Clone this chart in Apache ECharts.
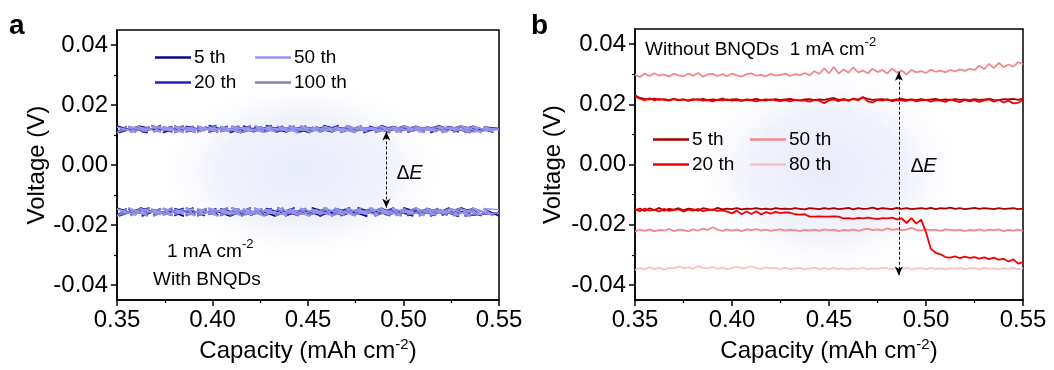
<!DOCTYPE html>
<html lang="en">
<head>
<meta charset="UTF-8">
<title>voltage profiles</title>
<script src="https://cdn.jsdelivr.net/npm/echarts@6/dist/echarts.min.js"></script>
<style>
  html, body { margin: 0; padding: 0; background: #fff; }
  #main { width: 1054px; height: 370px; }
</style>
</head>
<body>
<div id="main"></div>
<script>
// capacity in mAh cm-2, voltage in mV (axis labels shown in V)

// panel a: with BNQDs, the traces fold back on themselves
var capA1 = [
  0.350, 0.360, 0.356, 0.366, 0.362, 0.373, 0.368, 0.379, 0.374, 0.385,
  0.380, 0.391, 0.386, 0.396, 0.392, 0.403, 0.398, 0.409, 0.404, 0.415,
  0.410, 0.421, 0.416, 0.427, 0.422, 0.433, 0.428, 0.439, 0.434, 0.445,
  0.440, 0.451, 0.446, 0.457, 0.452, 0.463, 0.458, 0.469, 0.464, 0.475,
  0.470, 0.481, 0.476, 0.487, 0.482, 0.493, 0.488, 0.499, 0.494, 0.505,
  0.500, 0.511, 0.506, 0.517, 0.512, 0.523, 0.518, 0.529, 0.524, 0.535,
  0.530, 0.541, 0.536, 0.547, 0.542, 0.550
];
var capA2 = [
  0.350, 0.355, 0.351, 0.362, 0.357, 0.367, 0.363, 0.373, 0.369, 0.379,
  0.374, 0.385, 0.380, 0.390, 0.386, 0.397, 0.392, 0.402, 0.398, 0.408,
  0.404, 0.414, 0.409, 0.420, 0.415, 0.426, 0.421, 0.431, 0.427, 0.437,
  0.433, 0.443, 0.438, 0.449, 0.444, 0.455, 0.450, 0.460, 0.456, 0.466,
  0.462, 0.472, 0.467, 0.478, 0.473, 0.484, 0.479, 0.489, 0.485, 0.495,
  0.491, 0.501, 0.496, 0.507, 0.502, 0.513, 0.508, 0.518, 0.514, 0.524,
  0.520, 0.530, 0.526, 0.537, 0.532, 0.550
];
var a5Up = [
  13.0, 11.1, 12.8, 10.8, 12.9, 11.3, 13.2, 11.0, 12.7, 11.4,
  13.0, 10.9, 12.9, 11.5, 12.8, 11.0, 13.2, 11.2, 12.6, 10.8,
  12.9, 11.3, 13.0, 11.0, 12.7, 11.4, 13.2, 10.9, 12.8, 11.2,
  13.0, 10.8, 12.9, 11.5, 12.6, 11.0, 13.2, 11.3, 12.8, 10.9,
  13.0, 11.2, 12.7, 11.4, 12.9, 10.8, 13.2, 11.0, 12.8, 11.3,
  13.0, 10.9, 12.9, 11.2, 12.7, 11.4, 13.2, 11.0, 12.8, 10.8,
  13.0, 11.3, 12.9, 10.9, 12.7, 12.2
];
var a20Up = [
  11.0, 12.9, 10.8, 13.0, 11.3, 12.7, 10.9, 13.2, 11.2, 12.8,
  10.8, 13.0, 11.4, 12.9, 11.0, 12.7, 11.3, 13.2, 10.9, 12.9,
  11.2, 12.8, 10.8, 13.0, 11.4, 12.7, 11.0, 13.2, 11.3, 12.9,
  10.9, 12.8, 11.2, 13.0, 10.8, 12.7, 11.4, 12.9, 11.0, 13.2,
  11.3, 12.8, 10.9, 13.0, 11.2, 12.7, 10.8, 12.9, 11.4, 12.8,
  11.0, 13.2, 11.3, 12.9, 10.9, 12.7, 11.2, 13.0, 10.8, 12.8,
  11.3, 12.9, 11.0, 13.0, 11.2, 12.1
];
var a50Up = [
  12.7, 10.8, 12.9, 11.2, 12.6, 10.9, 13.1, 11.3, 12.8, 10.8,
  12.9, 11.0, 12.6, 11.4, 13.1, 10.9, 12.7, 11.2, 12.9, 10.8,
  12.8, 11.3, 12.6, 10.9, 13.1, 11.0, 12.7, 11.4, 12.9, 10.8,
  12.8, 11.2, 13.1, 10.9, 12.6, 11.3, 12.9, 11.0, 12.7, 10.8,
  13.1, 11.2, 12.8, 11.4, 12.6, 10.9, 12.9, 11.0, 12.7, 11.3,
  13.1, 10.8, 12.8, 11.2, 12.6, 10.9, 12.9, 11.4, 12.7, 11.0,
  13.1, 10.8, 12.8, 11.2, 12.6, 11.8
];
var a100Up = [
  10.8, 12.8, 11.2, 13.1, 10.9, 12.6, 11.3, 12.9, 11.0, 12.7,
  11.4, 13.1, 10.8, 12.8, 11.2, 12.6, 10.9, 12.9, 11.3, 12.7,
  11.0, 13.1, 11.4, 12.8, 10.8, 12.6, 11.2, 12.9, 10.9, 12.7,
  11.3, 13.1, 11.0, 12.8, 11.4, 12.6, 10.8, 12.9, 11.2, 12.7,
  10.9, 13.1, 11.3, 12.8, 11.0, 12.6, 11.4, 12.9, 10.8, 12.7,
  11.2, 13.1, 10.9, 12.8, 11.3, 12.6, 11.0, 12.9, 11.4, 12.7,
  10.8, 13.1, 11.2, 12.8, 10.9, 11.9
];
var a5Low = [
  -14.3, -16.6, -14.6, -16.9, -14.2, -16.4, -14.7, -16.8, -14.4, -17.1,
  -14.5, -16.5, -14.2, -16.9, -14.8, -16.7, -14.4, -17.0, -14.6, -16.4,
  -14.2, -16.8, -14.7, -16.6, -14.4, -17.1, -14.5, -16.5, -14.2, -16.9,
  -14.8, -16.7, -14.5, -17.0, -14.2, -16.4, -14.6, -16.8, -14.4, -16.6,
  -14.7, -17.1, -14.2, -16.5, -14.5, -16.9, -14.4, -16.7, -14.8, -17.0,
  -14.2, -16.4, -14.6, -16.8, -14.4, -16.6, -14.7, -17.1, -14.5, -16.5,
  -14.2, -16.9, -14.4, -16.7, -14.6, -17.0
];
var a20Low = [
  -16.8, -14.4, -17.0, -14.6, -16.5, -14.2, -17.1, -14.5, -16.7, -14.7,
  -16.4, -14.4, -16.9, -14.2, -16.6, -14.8, -17.0, -14.5, -16.5, -14.4,
  -16.8, -14.6, -17.1, -14.2, -16.7, -14.7, -16.4, -14.5, -16.9, -14.4,
  -16.6, -14.2, -17.0, -14.6, -16.5, -14.8, -16.8, -14.4, -17.1, -14.5,
  -16.4, -14.2, -16.9, -14.7, -16.7, -14.4, -16.5, -14.6, -17.0, -14.2,
  -16.8, -14.8, -16.6, -14.4, -16.9, -14.5, -16.4, -14.7, -17.1, -14.2,
  -16.7, -14.6, -16.5, -14.4, -17.0, -15.9
];
var a50Low = [
  -14.6, -16.7, -14.2, -17.0, -14.5, -16.5, -14.8, -16.8, -14.4, -16.4,
  -14.7, -16.9, -14.2, -16.6, -14.5, -17.1, -14.4, -16.5, -14.7, -16.8,
  -14.2, -16.7, -14.6, -17.0, -14.4, -16.4, -14.8, -16.8, -14.2, -16.6,
  -14.6, -17.1, -14.4, -16.5, -14.7, -16.9, -14.2, -16.7, -14.5, -17.0,
  -14.4, -16.4, -14.8, -16.8, -14.2, -16.6, -14.6, -17.1, -14.4, -16.5,
  -14.7, -16.9, -14.2, -16.7, -14.5, -16.4, -14.8, -16.8, -14.4, -17.0,
  -14.6, -16.6, -14.2, -16.9, -14.5, -14.9
];
var a100Low = [
  -17.0, -14.5, -16.6, -14.8, -16.9, -14.4, -16.4, -14.6, -17.1, -14.2,
  -16.7, -14.7, -16.5, -14.5, -17.0, -14.4, -16.8, -14.8, -16.4, -14.2,
  -16.9, -14.6, -16.6, -14.4, -17.1, -14.5, -16.5, -14.7, -16.8, -14.2,
  -17.0, -14.6, -16.4, -14.4, -16.7, -14.8, -16.9, -14.2, -16.5, -14.5,
  -17.1, -14.7, -16.6, -14.4, -16.8, -14.6, -16.4, -14.2, -17.0, -14.8,
  -16.7, -14.5, -16.9, -14.2, -16.5, -14.7, -17.1, -14.4, -16.8, -14.6,
  -16.4, -14.2, -17.0, -14.5, -16.6, -16.0
];

// panel b: without BNQDs
var capB = [
  0.35, 0.3525, 0.355, 0.3575, 0.36, 0.3625, 0.365, 0.3675, 0.37, 0.3725,
  0.375, 0.3775, 0.38, 0.3825, 0.385, 0.3875, 0.39, 0.3925, 0.395, 0.3975,
  0.40, 0.4025, 0.405, 0.4075, 0.41, 0.4125, 0.415, 0.4175, 0.42, 0.4225,
  0.425, 0.4275, 0.43, 0.4325, 0.435, 0.4375, 0.44, 0.4425, 0.445, 0.4475,
  0.45, 0.4525, 0.455, 0.4575, 0.46, 0.4625, 0.465, 0.4675, 0.47, 0.4725,
  0.475, 0.4775, 0.48, 0.4825, 0.485, 0.4875, 0.49, 0.4925, 0.495, 0.4975,
  0.50, 0.5025, 0.505, 0.5075, 0.51, 0.5125, 0.515, 0.5175, 0.52, 0.5225,
  0.525, 0.5275, 0.53, 0.5325, 0.535, 0.5375, 0.54, 0.5425, 0.545, 0.5475,
  0.55
];
var b50Up = [
  29.8, 29.1, 30.2, 29.4, 30.3, 29.5, 29.9, 29.2, 30.1, 29.6,
  29.3, 30.2, 29.5, 30.4, 29.2, 29.9, 30.1, 29.4, 30.0, 29.3,
  30.2, 29.6, 29.2, 30.0, 30.3, 29.5, 29.8, 29.3, 30.1, 29.5,
  29.8, 30.2, 29.4, 30.0, 29.7, 30.4, 29.6, 31.0, 30.1, 31.9,
  30.3, 32.4, 30.2, 31.6, 30.5, 32.3, 30.6, 31.2, 30.3, 31.8,
  30.7, 31.4, 30.2, 31.9, 30.5, 31.2, 29.9, 31.4, 30.6, 31.0,
  30.4, 31.5, 30.8, 31.2, 30.6, 31.4, 30.9, 31.6, 31.1, 31.8,
  31.4, 32.8, 31.7, 33.4, 32.0, 33.8, 32.3, 33.2, 32.5, 34.0,
  33.3
];
var b5Up = [
  23.0, 22.1, 21.8, 21.6, 21.9, 21.5, 21.7, 21.4, 21.8, 21.5,
  21.6, 21.3, 21.7, 21.5, 21.8, 21.4, 21.6, 21.5, 21.9, 21.4,
  21.6, 21.7, 21.3, 21.6, 21.5, 21.8, 21.4, 21.6, 21.5, 21.7,
  21.4, 21.6, 21.8, 21.5, 21.3, 21.6, 21.7, 21.4, 21.6, 21.5,
  21.8, 22.1, 21.5, 21.6, 21.4, 21.7, 21.6, 22.3, 21.8, 21.5,
  21.6, 21.7, 21.5, 21.4, 21.6, 21.8, 21.5, 21.6, 21.4, 21.7,
  21.5, 21.6, 21.8, 21.4, 21.6, 21.5, 21.7, 21.5, 21.6, 21.4,
  21.7, 21.5, 21.6, 21.8, 21.5, 21.4, 21.7, 21.6, 21.8, 21.5,
  21.9
];
var b20Up = [
  22.6, 21.9, 21.4, 22.0, 21.3, 21.8, 21.5, 21.2, 21.7, 21.3,
  21.6, 21.1, 21.5, 21.7, 21.2, 21.4, 21.0, 21.5, 21.3, 21.6,
  21.2, 21.4, 21.1, 21.5, 21.3, 21.0, 21.4, 21.2, 21.6, 21.3,
  21.1, 21.4, 21.0, 21.5, 21.2, 21.3, 20.9, 21.5, 21.2, 20.4,
  21.3, 21.6, 21.0, 21.8, 21.1, 21.9, 21.3, 22.4, 21.0, 20.6,
  21.5, 21.2, 21.7, 21.0, 21.4, 21.3, 21.1, 21.6, 21.0, 21.3,
  21.5, 20.9, 21.4, 21.2, 20.8, 21.6, 21.1, 20.7, 21.5, 21.0,
  21.4, 20.8, 21.3, 21.6, 20.9, 21.5, 20.6, 21.2, 20.3, 20.5,
  21.4
];
var b5Low = [
  -15.2, -14.6, -15.4, -14.5, -15.1, -14.4, -15.3, -14.7, -15.0, -14.5,
  -15.2, -14.6, -14.9, -15.3, -14.5, -14.8, -15.1, -14.4, -14.9, -14.6,
  -14.8, -14.5, -14.9, -14.6, -14.7, -14.5, -14.8, -14.6, -14.9, -14.5,
  -14.7, -14.6, -14.8, -14.5, -14.7, -14.9, -14.5, -14.6, -14.8, -14.5,
  -14.7, -14.5, -14.8, -14.6, -14.4, -14.9, -14.5, -14.7, -14.6, -14.3,
  -14.8, -14.5, -14.6, -14.8, -14.4, -14.7, -14.5, -14.8, -14.6, -14.5,
  -14.7, -14.4, -14.8, -14.5, -14.6, -14.3, -14.7, -14.5, -14.8, -14.6,
  -14.4, -14.7, -14.5, -14.6, -14.8, -14.5, -14.7, -14.6, -14.5, -14.8,
  -14.6
];
var b20Low = [
  -14.8, -15.5, -14.6, -15.3, -15.0, -15.6, -14.7, -15.4, -15.1, -14.8,
  -15.6, -15.0, -15.3, -14.7, -15.5, -15.1, -14.9, -15.4, -15.2, -15.6,
  -16.2, -15.3, -16.5, -15.6, -16.4, -15.5, -16.6, -15.8, -16.3, -15.7,
  -16.1, -15.9, -16.0, -16.5, -16.6, -16.5,
  -17.3, -17.3, -17.2, -17.3, -17.3, -17.2, -17.3,
  -17.9, -17.8, -18.0, -17.7, -17.9, -17.6, -17.9, -18.1, -17.8, -17.9, -17.6, -18.2, -17.9,
  -19.4, -17.8, -19.6, -18.3,
  -22.5, -28.0, -29.3, -29.8, -30.7,
  -30.9, -30.5, -31.1, -30.6, -31.0, -30.7, -31.2, -30.8, -31.4, -30.9, -31.6,
  -31.3, -32.2, -31.5, -32.9, -32.4
];
var b50Low = [
  -22.3, -21.6, -22.0, -21.5, -22.2, -21.7, -21.9, -21.4, -22.1, -21.6,
  -21.8, -22.2, -21.5, -21.9, -21.3, -21.7, -20.8, -21.6, -22.0, -21.5,
  -21.9, -21.6, -22.1, -21.5, -21.8, -21.4, -21.9, -21.6, -22.0, -21.7,
  -21.5, -21.9, -21.6, -21.8, -22.1, -21.7, -21.9, -21.6, -22.0, -21.5,
  -21.8, -21.6, -22.1, -21.7, -21.9, -21.5, -22.0, -21.6, -21.3, -21.8,
  -21.5, -21.9, -21.2, -21.7, -21.4, -21.8, -21.6, -21.0, -21.7, -21.9,
  -21.5, -21.8, -21.6, -22.0, -21.5, -21.7, -21.9, -21.6, -22.1, -21.7,
  -21.9, -21.5, -22.0, -21.6, -21.8, -21.5, -22.1, -21.7, -21.9, -21.6,
  -22.0
];
var b80Low = [
  -35.0, -34.3, -34.8, -34.1, -34.6, -34.2, -34.9, -34.3, -34.5, -33.8,
  -34.4, -34.1, -34.6, -33.7, -34.3, -34.5, -34.0, -34.6, -34.2, -34.7,
  -34.3, -34.0, -34.5, -34.2, -33.8, -34.4, -34.6, -34.1, -34.5, -34.3,
  -34.6, -34.2, -34.8, -34.4, -34.3, -34.7, -34.5, -34.2, -34.6, -34.4,
  -34.7, -34.3, -34.6, -34.5, -34.8, -34.4, -34.6, -34.3, -34.7, -34.5,
  -34.6, -34.2, -34.5, -34.7, -34.4, -34.6, -34.3, -34.8, -34.5, -34.4,
  -34.7, -34.3, -34.6, -34.5, -34.8, -34.4, -34.6, -34.3, -34.7, -34.5,
  -34.4, -34.7, -34.3, -34.6, -34.5, -34.8, -34.4, -34.6, -34.3, -34.7,
  -34.5
];

// delta E arrows: [capacity, top mV, bottom mV]
var arrowA = [0.491, 11.2, -14.2];
var arrowB = [0.486, 30.8, -36.8];

var yMajor = [-40, -20, 0, 20, 40];
var yMinor = [-30, -10, 10, 30];
var legendNames = {
  a5: '5 th', a20: '20 th', a50: '50 th', a100: '100 th',
  b5: '5 th', b20: '20 th', b50: '50 th', b80: '80 th'
};

var FONT = '"Liberation Sans", Arial, sans-serif';

function pairs(xs, ys) {
  return xs.map(function (x, i) { return [x, ys[i]]; });
}

function trace(name, xs, ys, color, g, w) {
  return {
    type: 'line', name: name, xAxisIndex: g, yAxisIndex: g * 2,
    data: pairs(xs, ys), showSymbol: false, symbol: 'none',
    lineStyle: { width: w, color: color }, itemStyle: { color: color }
  };
}

function arrow(g, a) {
  return {
    type: 'line', xAxisIndex: g, yAxisIndex: g * 2, data: [],
    markLine: {
      silent: true, symbol: ['arrow', 'arrow'], symbolSize: [6, 9],
      label: { show: false },
      lineStyle: { type: [3, 2], color: '#000', width: 1 },
      data: [[{ coord: [a[0], a[1]] }, { coord: [a[0], a[2]] }]]
    }
  };
}

function xAx(g) {
  return {
    type: 'value', gridIndex: g, min: 0.35, max: 0.55, interval: 0.05,
    name: 'Capacity (mAh cm{sup|-2})', nameLocation: 'middle', nameGap: 30,
    nameTextStyle: {
      fontSize: 24, fontFamily: FONT, color: '#000', lineHeight: 28,
      rich: { sup: { fontSize: 15, fontFamily: FONT, color: '#000', verticalAlign: 'top' } }
    },
    axisLine: { onZero: false, lineStyle: { color: '#000', width: 1.5 } },
    axisTick: { length: 6, lineStyle: { color: '#000', width: 1.5 } },
    minorTick: { show: true, splitNumber: 2, length: 3, lineStyle: { color: '#000', width: 1.2 } },
    axisLabel: {
      fontSize: 24, fontFamily: FONT, color: '#000', margin: 8,
      formatter: function (v) { return v.toFixed(2); }
    },
    splitLine: { show: false }
  };
}

function yAx(g, gap) {
  return [{
    type: 'value', gridIndex: g, min: -45, max: 45, position: 'left',
    name: 'Voltage (V)', nameLocation: 'middle', nameGap: gap,
    nameTextStyle: { fontSize: 24, fontFamily: FONT, color: '#000' },
    axisLine: { onZero: false, lineStyle: { color: '#000', width: 1.5 } },
    axisTick: { length: 6, customValues: yMajor, lineStyle: { color: '#000', width: 1.5 } },
    axisLabel: {
      customValues: yMajor, fontSize: 24, fontFamily: FONT, color: '#000', margin: 9,
      formatter: function (v) { return (v / 1000).toFixed(2); }
    },
    splitLine: { show: false }
  }, {
    // short ticks between the labelled ones
    type: 'value', gridIndex: g, min: -45, max: 45, position: 'left', offset: 0,
    axisLine: { show: false, onZero: false },
    axisTick: { length: 3, customValues: yMinor, lineStyle: { color: '#000', width: 1.2 } },
    axisLabel: { show: false },
    splitLine: { show: false }
  }];
}

function legendCol(names, left, top) {
  return {
    data: names, left: left, top: top, orient: 'vertical', padding: 0,
    icon: 'rect', itemWidth: 36, itemHeight: 2.5, itemGap: 6, selectedMode: false,
    formatter: function (n) { return legendNames[n]; },
    textStyle: { fontSize: 19, fontFamily: FONT, color: '#000', padding: [0, 0, 0, -2] }
  };
}

function glow(cx, cy, r, sx, sy) {
  return {
    type: 'circle', x: cx, y: cy, scaleX: sx, scaleY: sy, z: -10, silent: true,
    shape: { cx: 0, cy: 0, r: r },
    style: {
      fill: new echarts.graphic.RadialGradient(0.5, 0.5, 0.5, [
        { offset: 0, color: 'rgba(232,235,250,1)' },
        { offset: 0.6, color: 'rgba(236,238,251,0.8)' },
        { offset: 1, color: 'rgba(248,249,254,0)' }
      ])
    }
  };
}

function label(x, y, text, size, extra) {
  var style = {
    text: text, fontSize: size, fontFamily: FONT, fill: '#000', verticalAlign: 'middle',
    lineHeight: 28,
    rich: { sup: { fontSize: 13, lineHeight: 13, fontFamily: FONT, fill: '#000', verticalAlign: 'top' } }
  };
  for (var k in extra) style[k] = extra[k];
  return { type: 'text', x: x, y: y, z: 10, silent: true, style: style };
}

var chart = echarts.init(document.getElementById('main'));

var option = {
  animation: false,
  backgroundColor: '#fff',
  grid: [
    { left: 117, right: 555, top: 30, bottom: 65, show: true, borderColor: '#000', borderWidth: 1.5, backgroundColor: 'transparent' },
    { left: 635, right: 31, top: 29, bottom: 66, show: true, borderColor: '#000', borderWidth: 1.5, backgroundColor: 'transparent' }
  ],
  xAxis: [xAx(0), xAx(1)],
  yAxis: yAx(0, 68).concat(yAx(1, 70)),
  legend: [
    legendCol(['a5', 'a20'], 155, 48),
    legendCol(['a50', 'a100'], 255, 48),
    legendCol(['b5', 'b20'], 653, 130),
    legendCol(['b50', 'b80'], 750, 130)
  ],
  graphic: [
    glow(302, 170, 140, 1.0, 0.62),
    glow(828, 172, 130, 1.0, 0.78),
    label(9, 26, 'a', 28, { fontWeight: 'bold', lineHeight: 30 }),
    label(531, 26, 'b', 28, { fontWeight: 'bold', lineHeight: 30 }),
    label(167, 252, '1 mA cm{sup|-2}', 19),
    label(153, 280, 'With BNQDs', 19),
    label(397, 173, '\u2206E', 20, { fontStyle: 'italic' }),
    label(645, 50, 'Without BNQDs  1 mA cm{sup|-2}', 19),
    label(911, 166, '\u2206E', 20, { fontStyle: 'italic' })
  ],
  series: [
    trace('a5', capA1, a5Up, '#0a0a86', 0, 1.6),
    trace('a5', capA1, a5Low, '#0a0a86', 0, 1.6),
    trace('a20', capA2, a20Up, '#1e1ed6', 0, 1.6),
    trace('a20', capA2, a20Low, '#1e1ed6', 0, 1.6),
    trace('a100', capA2, a100Up, '#8282ba', 0, 1.6),
    trace('a100', capA2, a100Low, '#8282ba', 0, 1.6),
    trace('a50', capA1, a50Up, '#9595ee', 0, 1.6),
    trace('a50', capA1, a50Low, '#9595ee', 0, 1.6),
    arrow(0, arrowA),

    trace('b80', capB, b80Low, '#f6c2c2', 1, 1.8),
    trace('b50', capB, b50Up, '#f48888', 1, 1.8),
    trace('b50', capB, b50Low, '#f48888', 1, 1.8),
    trace('b5', capB, b5Up, '#a80000', 1, 1.8),
    trace('b5', capB, b5Low, '#a80000', 1, 1.8),
    trace('b20', capB, b20Up, '#f00000', 1, 1.8),
    trace('b20', capB, b20Low, '#f00000', 1, 1.8),
    arrow(1, arrowB)
  ]
};

chart.setOption(option);
</script>
</body>
</html>
